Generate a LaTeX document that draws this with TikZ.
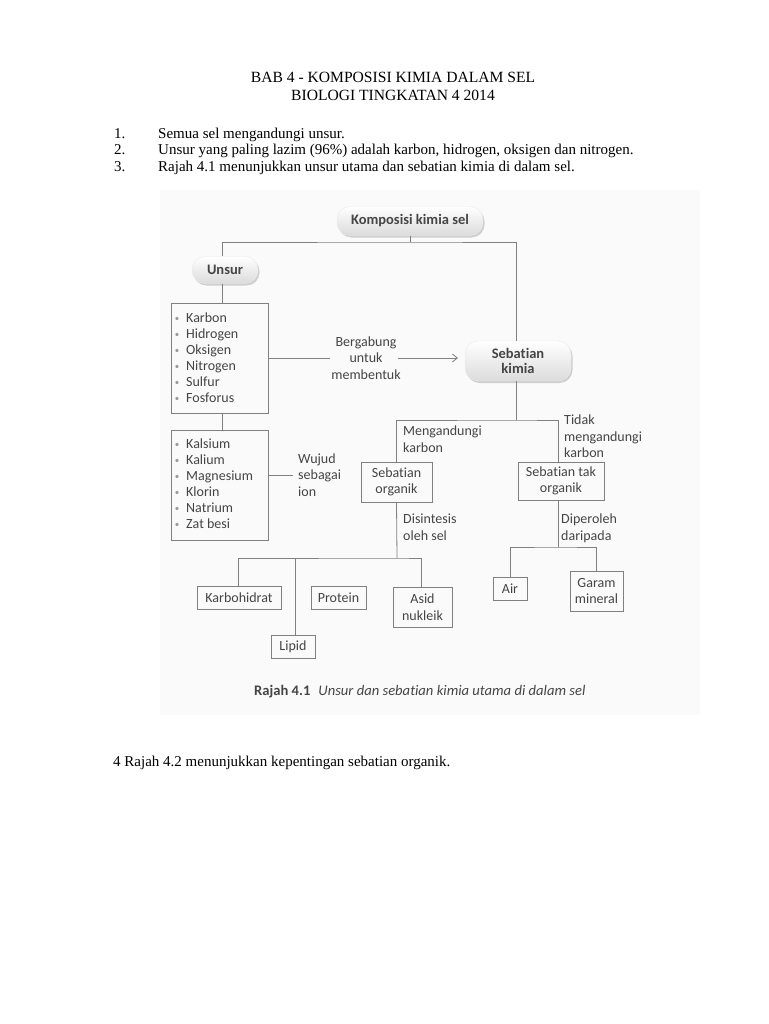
\documentclass[tikz,border=0pt]{standalone}
\usepackage{fontspec}
\setmainfont{Liberation Serif}
\newfontfamily\dfont[Ligatures=NoCommon]{Carlito}
\usetikzlibrary{shadows,arrows.meta}
\definecolor{txt}{HTML}{454545}
\definecolor{ln}{HTML}{808080}
\tikzset{
  pill/.style={rounded corners=13pt, top color=white, bottom color=black!14, draw=black!8,
    drop shadow={shadow xshift=1.5pt, shadow yshift=-2pt, opacity=0.35},
    font=\dfont\bfseries\fontsize{14.5}{16}\selectfont, text=txt, align=center, inner sep=0pt},
  sbox/.style={draw=ln, line width=0.8pt, font=\dfont\fontsize{14}{16.5}\selectfont, text=txt, align=center, inner sep=0pt},
  lbl/.style={font=\dfont\fontsize{14}{16.3}\selectfont, text=txt, inner sep=0pt},
  conn/.style={draw=ln, line width=0.8pt},
  body/.style={font=\fontsize{15}{17}\selectfont, anchor=base west, inner sep=0pt}
}
\begin{document}
\begin{tikzpicture}[x=1pt,y=-1pt]
\useasboundingbox[fill=white] (0,0) rectangle (768,1024);
% header
\node[font=\fontsize{15.6}{17}\selectfont, anchor=base, inner sep=0pt] (t1) at (393,83) {BAB 4 - KOMPOSISI KIMIA DALAM SEL};
\node[font=\fontsize{15.6}{17}\selectfont, anchor=base, inner sep=0pt] (t2) at (393,101) {BIOLOGI TINGKATAN 4 2014};
\node[body] (n1) at (114,139) {1.};
\node[body] (l1) at (158,139) {Semua sel mengandungi unsur.};
\node[body] (n2) at (114,155) {2.};
\node[body] (l2) at (158,155) {Unsur yang paling lazim (96\%) adalah karbon, hidrogen, oksigen dan nitrogen.};
\node[body] (n3) at (114,172) {3.};
\node[body] (l3) at (158,172) {Rajah 4.1 menunjukkan unsur utama dan sebatian kimia di dalam sel.};
\node[body] (l4) at (113,766) {4 Rajah 4.2 menunjukkan kepentingan sebatian organik.};

% diagram background
\fill[black!2] (160,190) rectangle (700,715);

% pills
\node[pill, minimum width=146pt, minimum height=29pt] (komp) at (410,221) {Komposisi kimia sel};
\node[pill, minimum width=66pt, minimum height=27pt] (unsur) at (225,270) {Unsur};
\node[pill, minimum width=106pt, minimum height=40pt] (sebk) at (518,361) {Sebatian\\[-1pt]kimia};

% element boxes
\node[sbox, minimum width=97pt, minimum height=110pt] (b1) at (219.5,358) {};
\node[sbox, minimum width=97pt, minimum height=110pt] (b2) at (219.5,485) {};
\foreach \t [count=\i] in {Karbon,Hidrogen,Oksigen,Nitrogen,Sulfur,Fosforus}{
  \node[lbl, anchor=base west] (e\i) at (186,{306+16.1*\i}) {\t};
  \node[lbl, anchor=base, font=\dfont\fontsize{9}{9}\selectfont, text=black!40] (d\i) at (177,{306+16.1*\i-1}) {\textbullet};
}
\foreach \t [count=\i] in {Kalsium,Kalium,Magnesium,Klorin,Natrium,Zat besi}{
  \node[lbl, anchor=base west] (f\i) at (186,{432+16.1*\i}) {\t};
  \node[lbl, anchor=base, font=\dfont\fontsize{9}{9}\selectfont, text=black!40] (g\i) at (177,{432+16.1*\i-1}) {\textbullet};
}

% compound boxes
\node[sbox, minimum width=71pt, minimum height=40pt] (org) at (396.5,482) {Sebatian\\organik};
\node[sbox, minimum width=86pt, minimum height=38pt] (tak) at (561,481) {Sebatian tak\\organik};
\node[sbox, minimum width=84pt, minimum height=23pt] (karb) at (239,597.5) {Karbohidrat};
\node[sbox, minimum width=55pt, minimum height=23pt] (prot) at (338.5,597.5) {Protein};
\node[sbox, minimum width=59pt, minimum height=40pt] (asid) at (422.5,607) {Asid\\nukleik};
\node[sbox, minimum width=44pt, minimum height=23pt] (lipid) at (293,646.5) {Lipid};
\node[sbox, minimum width=34pt, minimum height=23pt] (air) at (510,588.5) {Air};
\node[sbox, minimum width=53pt, minimum height=40pt] (garam) at (596.5,591) {Garam\\mineral};

% labels
\node[lbl, align=center] (berg) at (366,358) {Bergabung\\untuk\\membentuk};
\node[lbl, align=left, anchor=west] (wujud) at (298,475) {Wujud\\sebagai\\ion};
\node[lbl, align=left, anchor=north west] (meng) at (403,426) {Mengandungi\\karbon};
\node[lbl, align=left, anchor=north west] (tidak) at (564,415) {Tidak\\mengandungi\\karbon};
\node[lbl, align=left, anchor=north west] (disin) at (403,514) {Disintesis\\oleh sel};
\node[lbl, align=left, anchor=north west] (diper) at (561,514) {Diperoleh\\daripada};

% caption
\node[anchor=base west, inner sep=0pt, font=\dfont\fontsize{14.6}{16}\selectfont, text=txt] (cap) at (254,695) {\textbf{Rajah 4.1}\hspace{8pt}\textit{Unsur dan sebatian kimia utama di dalam sel}};

% connectors
\coordinate (j1) at (410,242);
\coordinate (lineL) at (330,358);
\coordinate (arrS) at (398,358);
\coordinate (arrE) at (458,358);
\coordinate (ionE) at (293,475);
\draw[conn] (komp.south) -- (j1);
\draw[conn] (unsur.north -| 222,0) |- (j1) -| (sebk.north -| 516,0);
\draw[conn] (unsur.south -| 222,0) -- (b1.north -| 222,0);
\draw[conn] (b1.south -| 222,0) -- (b2.north -| 222,0);
\draw[conn] (b1.east) -- (lineL);
\draw[conn, -{Straight Barb[length=5pt,width=8pt]}] (arrS) -- (arrE);
\draw[conn] (b2.east |- ionE) -- (ionE);
\coordinate (j2) at (516,420);
\draw[conn] (sebk.south -| 516,0) -- (j2);
\draw[conn] (org.north) |- (j2) -| (tak.north -| 558,0);
\coordinate (j3) at (397,558);
\draw[conn] (org.south) -- (j3);
\draw[conn] (karb.north -| 238,0) |- (j3) -| (asid.north -| 421,0);
\draw[conn] (295,558) -- (lipid.north -| 295,0);
\coordinate (j4) at (558,547);
\draw[conn] (tak.south -| 558,0) -- (j4);
\draw[conn] (air.north) |- (j4) -| (garam.north);
\end{tikzpicture}
\end{document}
